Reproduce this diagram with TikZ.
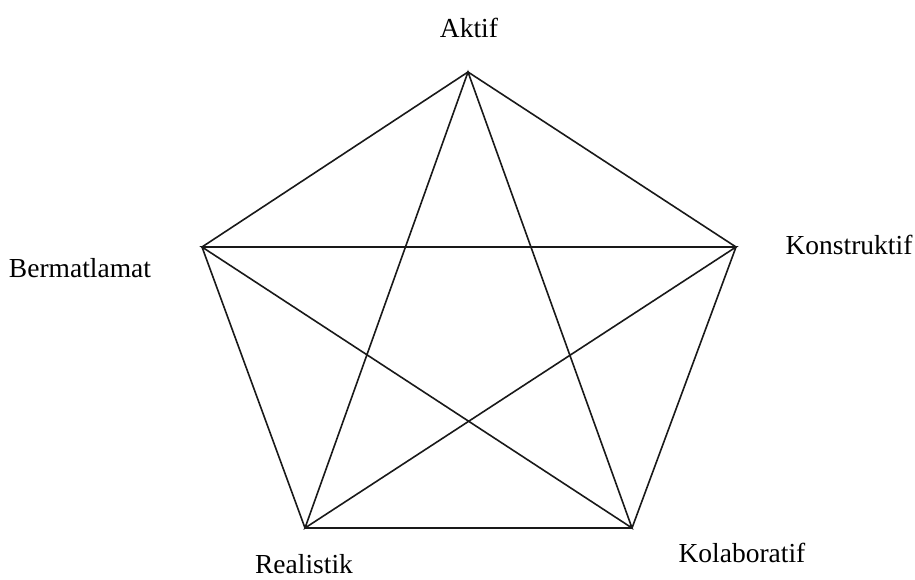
\documentclass[tikz,border=0pt]{standalone}
\usepackage{fontspec}
\setmainfont{Liberation Serif}
\begin{document}
\begin{tikzpicture}[x=1pt,y=-1pt,
  lbl/.style={font=\fontsize{27.5}{30}\selectfont, inner sep=0pt, anchor=center},
  edge/.style={line width=1.6pt, black!90}]
\useasboundingbox (0,0) rectangle (915,580);
\coordinate (A) at (468,72);
\coordinate (K) at (736,247);
\coordinate (Ko) at (632,528);
\coordinate (R) at (305,528);
\coordinate (B) at (202,247);
\draw[edge] (A) -- (K) -- (Ko) -- (R) -- (B) -- cycle;
\draw[edge] (A) -- (Ko) -- (B) -- (K) -- (R) -- cycle;
\node[lbl] (tA) at (469,28) {Aktif};
\node[lbl] (tK) at (849,245) {Konstruktif};
\node[lbl] (tB) at (80,268) {Bermatlamat};
\node[lbl] (tR) at (304,564) {Realistik};
\node[lbl] (tKo) at (742,553) {Kolaboratif};
\end{tikzpicture}
\end{document}
